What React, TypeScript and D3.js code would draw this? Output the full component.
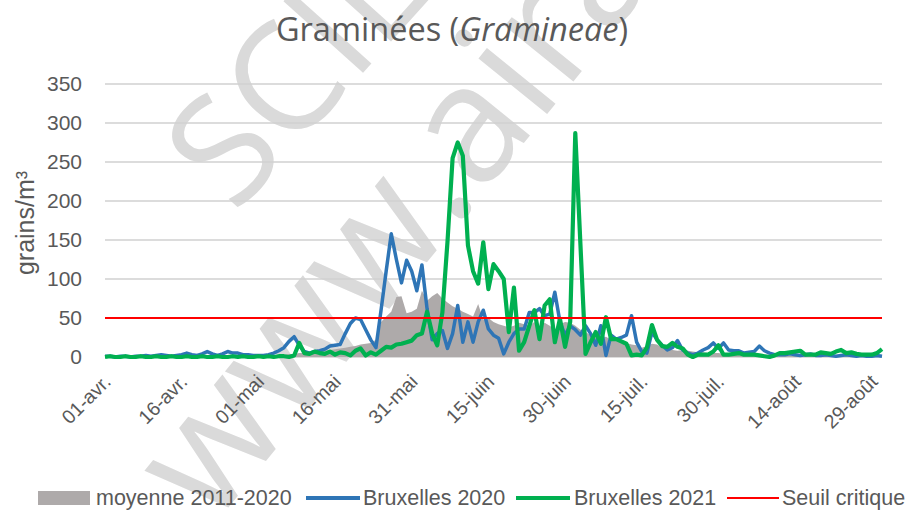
import React from 'react';
import * as d3 from 'd3';

// Graminées, Bruxelles : comptages journaliers 01-avr. -> 31-août (153 jours)
const dayLabels = ['01-avr.', '16-avr.', '01-mai', '16-mai', '31-mai', '15-juin', '30-juin', '15-juil.', '30-juil.', '14-août', '29-août'];
const yTicks = [0, 50, 100, 150, 200, 250, 300, 350];
const seuil = 50;

const moyenne = [
	0, 0, 0, 0, 0, 0, 0, 0, 0, 0,
	0, 0, 0, 0, 0, 1, 1, 1, 1, 1,
	1, 1, 1, 1, 1, 1, 1, 1, 1, 1,
	1, 1, 2, 2, 3, 3, 4, 4, 5, 5,
	6, 6, 7, 8, 9, 10, 11, 12, 13, 14,
	16, 17, 18, 22, 45, 52, 58, 77, 78, 56,
	58, 62, 85, 72, 78, 82, 75, 70, 65, 62,
	58, 55, 52, 68, 48, 50, 45, 42, 40, 38,
	40, 44, 42, 40, 45, 38, 44, 40, 35, 42,
	45, 44, 40, 35, 32, 28, 25, 24, 26, 22,
	24, 20, 18, 16, 15, 12, 14, 17, 16, 12,
	10, 9, 8, 9, 8, 7, 6, 6, 5, 5,
	5, 4, 4, 4, 4, 3, 3, 3, 3, 3,
	3, 3, 3, 2, 2, 2, 2, 2, 2, 2,
	2, 2, 1, 1, 1, 1, 1, 1, 1, 1,
	1, 1, 1
];

const bxl2020 = [
	1, 1, 0, 1, 1, 0, 1, 1, 2, 1,
	2, 3, 2, 1, 2, 3, 5, 3, 2, 4,
	7, 4, 2, 4, 7, 5, 5, 3, 3, 2,
	2, 2, 3, 5, 8, 12, 20, 26, 15, 7,
	5, 7, 8, 10, 14, 15, 16, 30, 43, 50,
	48, 35, 22, 12, 60, 110, 158, 125, 95, 124,
	110, 85, 118, 62, 22, 30, 34, 11, 30, 66,
	19, 45, 19, 45, 60, 36, 28, 24, 4, 19,
	30, 36, 36, 57, 57, 62, 53, 55, 83, 45,
	28, 40, 35, 28, 40, 30, 15, 40, 2, 28,
	23, 25, 28, 53, 19, 7, 5, 32, 22, 15,
	9, 12, 21, 9, 5, 3, 5, 9, 12, 18,
	11, 18, 9, 8, 8, 5, 6, 7, 14, 8,
	5, 3, 3, 3, 4, 3, 2, 3, 4, 2,
	2, 3, 2, 1, 2, 3, 2, 1, 2, 1,
	1, 2, 1
];

const bxl2021 = [
	0, 1, 0, 0, 1, 0, 0, 1, 0, 0,
	1, 0, 0, 1, 0, 0, 1, 0, 0, 1,
	0, 0, 1, 0, 0, 1, 0, 1, 0, 0,
	1, 0, 1, 0, 1, 1, 0, 2, 18, 5,
	4, 7, 5, 4, 7, 3, 6, 5, 2, 8,
	11, 2, 6, 3, 8, 13, 12, 16, 17, 19,
	21, 28, 30, 58, 30, 15, 57, 148, 255, 275,
	258, 143, 110, 94, 147, 87, 119, 110, 100, 32,
	89, 8, 19, 40, 60, 23, 66, 74, 19, 49,
	13, 45, 287, 145, 4, 19, 32, 17, 51, 23,
	23, 20, 17, 2, 3, 2, 12, 41, 22, 14,
	13, 18, 13, 11, 3, 0, 3, 3, 3, 7,
	15, 3, 3, 4, 5, 3, 3, 3, 2, 1,
	0, 2, 5, 5, 6, 7, 8, 3, 3, 3,
	6, 5, 4, 7, 9, 5, 6, 4, 3, 3,
	3, 5, 10
];

const txt = '#595959';
const font = "'Liberation Sans', Arial, sans-serif";

export default function App() {
	const x = d3.scaleLinear().domain([0, moyenne.length - 1]).range([105, 882]);
	const y = d3.scaleLinear().domain([0, 350]).range([357, 84]);

	const area = d3
		.area<number>()
		.x((d, i) => x(i))
		.y0(y(0))
		.y1(d => y(d));
	const line = d3
		.line<number>()
		.x((d, i) => x(i))
		.y(d => y(d));

	return (
		<svg width={910} height={510} style={{ position: 'absolute', left: 0, top: 0, background: '#fff' }}>
			{/* filigrane */}
			<g fill="#dadada" fontFamily="'Open Sans', sans-serif">
				<text transform="translate(235,215) rotate(-48)" fontSize={150}>SCIENSANO</text>
				<text transform="translate(212,528) rotate(-51)" fontSize={165}>www.airallergy.be</text>
			</g>

			{/* grille */}
			{yTicks.map(t => (
				<line key={t} x1={105} x2={882} y1={y(t)} y2={y(t)} stroke="#d0d0d0" strokeWidth={1.5} />
			))}
			{yTicks.map(t => (
				<text key={'l' + t} x={82} y={y(t)} dy="0.35em" textAnchor="end" fontSize={21} fill={txt} fontFamily={font}>
					{t}
				</text>
			))}

			<path d={area(moyenne) || ''} fill="#aeaaaa" />
			<path d={line(bxl2020) || ''} fill="none" stroke="#2e75b6" strokeWidth={3.5} strokeLinejoin="round" />
			<path d={line(bxl2021) || ''} fill="none" stroke="#00b050" strokeWidth={4.2} strokeLinejoin="round" />
			<line x1={105} x2={882} y1={y(seuil)} y2={y(seuil)} stroke="#ff0000" strokeWidth={2} />

			{/* axe x */}
			{dayLabels.map((lab, i) => {
				const px = x(i * 15) + 7;
				return (
					<text key={lab} transform={`translate(${px},383) rotate(-45)`} textAnchor="end" fontSize={19.5} fill={txt} fontFamily={font}>
						{lab}
					</text>
				);
			})}

			<text transform="translate(34,223) rotate(-90)" textAnchor="middle" fontSize={25} fill={txt} fontFamily={font}>
				grains/m³
			</text>

			<text x={452} y={41} textAnchor="middle" fontSize={32.5} fill={txt} fontFamily="'Open Sans', sans-serif">
				Graminées (<tspan fontStyle="italic">Gramineae</tspan>)
			</text>

			{/* légende */}
			<g fontSize={21.5} fill={txt} fontFamily={font}>
				<rect x={38} y={491} width={52} height={14} fill="#aeaaaa" />
				<text x={96} y={505}>moyenne 2011-2020</text>
				<line x1={306} x2={360} y1={498} y2={498} stroke="#2e75b6" strokeWidth={4} />
				<text x={363} y={505}>Bruxelles 2020</text>
				<line x1={516} x2={570} y1={498} y2={498} stroke="#00b050" strokeWidth={4} />
				<text x={574} y={505}>Bruxelles 2021</text>
				<line x1={727} x2={779} y1={498} y2={498} stroke="#ff0000" strokeWidth={2} />
				<text x={782} y={505}>Seuil critique</text>
			</g>
		</svg>
	);
}
